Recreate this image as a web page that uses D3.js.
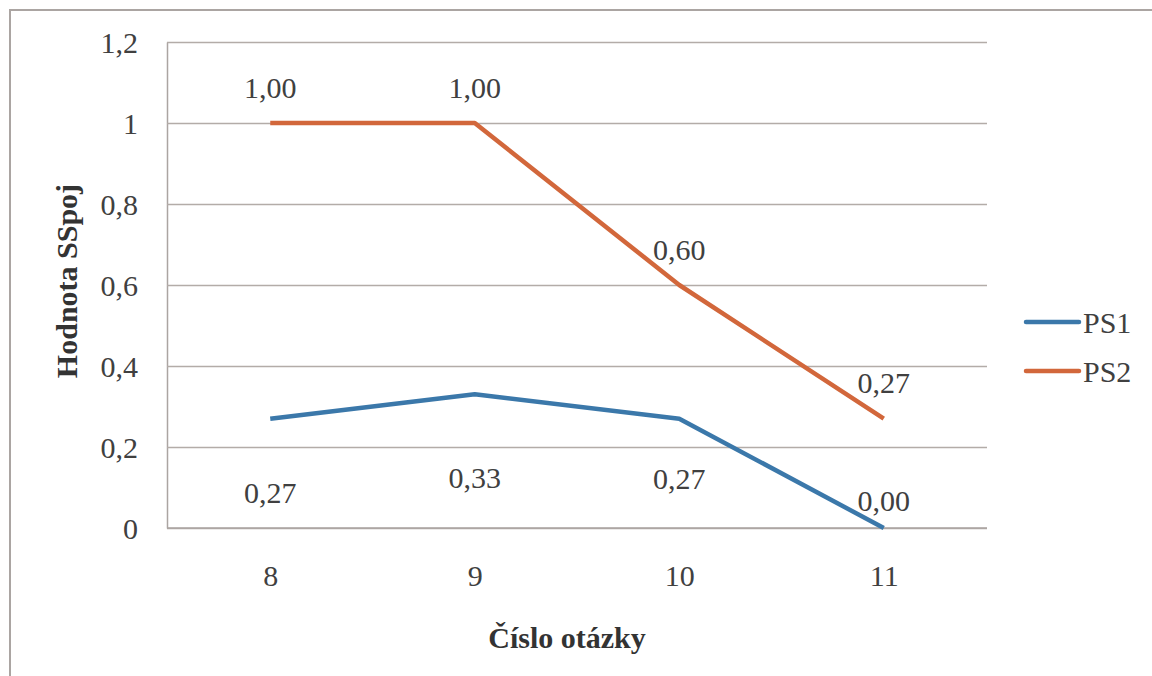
<!DOCTYPE html>
<html>
<head>
<meta charset="utf-8">
<script src="https://cdn.jsdelivr.net/npm/d3@7"></script>
<style>
  body { margin: 0; background: #fff; }
  svg { display: block; }
</style>
</head>
<body>
<div id="chart"></div>
<script>
// data
var categories = ["8", "9", "10", "11"];
var ps1 = [0.27, 0.33, 0.27, 0.00];
var ps2 = [1.00, 1.00, 0.60, 0.27];
var seriesNames = ["PS1", "PS2"];
var yTicks = [0, 0.2, 0.4, 0.6, 0.8, 1, 1.2];

// label nudges (px, baseline relative to point)
var ps1LabelDy = [84, 94, 70, -17];
var ps2LabelDy = [-25, -25, -25, -26];

var W = 1152, H = 676;
var colors = ["#3B78AA", "#D2673B"];
var font = "'Liberation Serif', 'Times New Roman', serif";
var textColor = "#404040";

var svg = d3.select("#chart").append("svg")
  .attr("width", W)
  .attr("height", H);

// outer frame (runs off the right/bottom edges)
svg.append("rect")
  .attr("x", 10).attr("y", 10)
  .attr("width", W + 20).attr("height", H + 20)
  .attr("fill", "white")
  .attr("stroke", "#ABA5A2")
  .attr("stroke-width", 2);

var plot = { left: 167, right: 987, top: 42, bottom: 528 };

var x = d3.scalePoint()
  .domain(categories)
  .range([plot.left + 1, plot.right - 1])
  .padding(0.5);

var y = d3.scaleLinear()
  .domain([0, 1.2])
  .range([plot.bottom, plot.top]);

var fmt = function(d) { return String(d).replace(".", ","); };

// y axis with gridlines
var yAxis = svg.append("g")
  .attr("transform", "translate(" + plot.left + ",0)")
  .call(d3.axisLeft(y)
    .tickValues(yTicks)
    .tickSize(-(plot.right - plot.left))
    .tickSizeOuter(0)
    .tickPadding(29)
    .tickFormat(fmt));

yAxis.select(".domain").attr("stroke", "#ABA5A2").attr("stroke-width", 1.5);
yAxis.selectAll(".tick line").attr("stroke", "#B3ACA8").attr("stroke-width", 1.5);
yAxis.selectAll(".tick text")
  .attr("font-family", font)
  .attr("font-size", "30px")
  .attr("fill", textColor)
  .attr("dy", "0.36em");

// x axis
var xAxis = svg.append("g")
  .attr("transform", "translate(0," + plot.bottom + ")")
  .call(d3.axisBottom(x).tickSize(0).tickPadding(37));

xAxis.select(".domain")
  .attr("d", "M" + plot.left + ",0H" + plot.right)
  .attr("stroke", "#ABA5A2").attr("stroke-width", 1.5);
xAxis.selectAll(".tick text")
  .attr("font-family", font)
  .attr("font-size", "30px")
  .attr("fill", textColor);

// lines
var line = d3.line()
  .x(function(d, i) { return x(categories[i]); })
  .y(function(d) { return y(d); });

var allSeries = [ps1, ps2];
var allDy = [ps1LabelDy, ps2LabelDy];

allSeries.forEach(function(s, k) {
  svg.append("path")
    .datum(s)
    .attr("d", line)
    .attr("fill", "none")
    .attr("stroke", colors[k])
    .attr("stroke-width", 4.5)
    .attr("stroke-linejoin", "round");
});

// data labels
allSeries.forEach(function(s, k) {
  svg.append("g").selectAll("text")
    .data(s)
    .join("text")
    .attr("x", function(d, i) { return x(categories[i]); })
    .attr("y", function(d, i) { return y(d) + allDy[k][i]; })
    .attr("text-anchor", "middle")
    .attr("font-family", font)
    .attr("font-size", "30px")
    .attr("fill", textColor)
    .text(function(d) { return d.toFixed(2).replace(".", ","); });
});

// axis titles
svg.append("text")
  .attr("x", (plot.left + plot.right) / 2 - 10)
  .attr("y", 648)
  .attr("text-anchor", "middle")
  .attr("font-family", font)
  .attr("font-size", "30px")
  .attr("font-weight", "bold")
  .attr("fill", "#333")
  .text("Číslo otázky");

svg.append("text")
  .attr("transform", "translate(77," + 281 + ") rotate(-90)")
  .attr("text-anchor", "middle")
  .attr("font-family", font)
  .attr("font-size", "30px")
  .attr("font-weight", "bold")
  .attr("fill", "#333")
  .text("Hodnota SSpoj");

// legend
var legend = svg.append("g").selectAll("g")
  .data(seriesNames)
  .join("g")
  .attr("transform", function(d, i) { return "translate(1026," + (322 + i * 49) + ")"; });

legend.append("line")
  .attr("x1", 0).attr("x2", 53)
  .attr("stroke", function(d, i) { return colors[i]; })
  .attr("stroke-width", 4.5)
  .attr("stroke-linecap", "round");

legend.append("text")
  .attr("x", 57)
  .attr("y", 11)
  .attr("font-family", font)
  .attr("font-size", "30px")
  .attr("fill", textColor)
  .text(function(d) { return d; });
</script>
</body>
</html>
